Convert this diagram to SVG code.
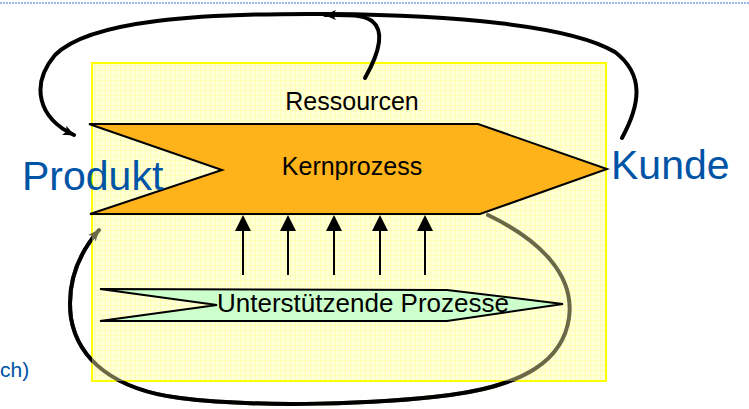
<svg xmlns="http://www.w3.org/2000/svg" width="749" height="409" viewBox="0 0 749 409">
<defs>
<pattern id="grid" width="5" height="5" patternUnits="userSpaceOnUse">
<rect width="5" height="5" fill="#FFFFDA"/>
<path d="M0,0.5H5M0.5,0V5" stroke="#FFFFB4" stroke-width="1"/>
</pattern>
<clipPath id="outside">
<path clip-rule="evenodd" d="M-10,-10H760V420H-10Z M92,63V381H606V63Z"/>
</clipPath>
<marker id="barb" viewBox="0 0 12 10" refX="11" refY="5" markerWidth="12" markerHeight="10" markerUnits="userSpaceOnUse" orient="auto">
<path d="M0,0 L12,5 L0,10 L3,5 Z" fill="#000"/>
</marker>
<marker id="barbg" viewBox="0 0 12 10" refX="11" refY="5" markerWidth="12" markerHeight="10" markerUnits="userSpaceOnUse" orient="auto">
<path d="M0,0 L12,5 L0,10 L3,5 Z" fill="#6B6848"/>
</marker>
</defs>
<style>
.loop{fill:none;stroke:#000;stroke-width:4;stroke-linecap:round}
.shape{stroke:#000;stroke-width:2;stroke-linejoin:miter}
.lbl{font-family:"Liberation Sans",Arial,sans-serif;fill:#000;text-anchor:middle}
.blue{font-family:"Liberation Sans",Arial,sans-serif;fill:#0054A6}
.vline{stroke:#000;stroke-width:2}
.ah{fill:#000}
</style>
<line x1="0" y1="3" x2="749" y2="3" stroke="#9DB8E6" stroke-width="2" stroke-dasharray="2,1"/>
<g id="frame">
<rect x="92" y="63" width="514" height="318" fill="url(#grid)" stroke="#FFFF00" stroke-width="2"/>
</g>
<g id="connectors">
<path class="loop" style="stroke:#6B6848" d="M488,215 C540,240 575,275 569,318 C563,360 525,385 450,395 C380,404 260,408 180,398 C115,390 78,360 71,318 C66,280 80,252 99,230" marker-end="url(#barbg)"/>
<path class="loop" clip-path="url(#outside)" d="M488,215 C540,240 575,275 569,318 C563,360 525,385 450,395 C380,404 260,408 180,398 C115,390 78,360 71,318 C66,280 80,252 99,230"/>
<path class="loop" d="M622,138 C640,105 645,75 615,52 C570,25 450,15 330,14 C200,13 90,20 55,55 C30,85 38,118 74,135" marker-end="url(#barb)"/>
<path class="loop" d="M365,78 C378,55 386,32 372,21 C362,14 345,15 325,15" marker-end="url(#barb)"/>
<line class="vline" x1="243" y1="275" x2="243" y2="228"/>
<line class="vline" x1="288" y1="275" x2="288" y2="228"/>
<line class="vline" x1="334" y1="275" x2="334" y2="228"/>
<line class="vline" x1="380" y1="275" x2="380" y2="228"/>
<line class="vline" x1="425" y1="275" x2="425" y2="228"/>
<polygon class="ah" points="243,215 251,231 235,231"/>
<polygon class="ah" points="288,215 296,231 280,231"/>
<polygon class="ah" points="334,215 342,231 326,231"/>
<polygon class="ah" points="380,215 388,231 372,231"/>
<polygon class="ah" points="425,215 433,231 417,231"/>
</g>
<g id="kernprozess">
<polygon class="shape" points="89,124 478,124 607,169 480,214 90,214 222,170" fill="#FFB31A"/>
<text class="lbl" x="352" y="175" font-size="25">Kernprozess</text>
</g>
<g id="unterstuetzende">
<polygon class="shape" points="100,289 447,290 563,304 447,321 100,321 217,305" fill="#CCFFCC"/>
<text class="lbl" x="363" y="312" font-size="26">Unterstützende Prozesse</text>
</g>
<g id="ressourcen">
<text class="lbl" x="352" y="110" font-size="25">Ressourcen</text>
</g>
<g id="produkt">
<text class="blue" x="22" y="190" font-size="41">Produkt</text>
</g>
<g id="kunde">
<text class="blue" x="611" y="179" font-size="41">Kunde</text>
</g>
<g id="ch">
<text class="blue" x="0" y="377" font-size="21">ch)</text>
</g>
</svg>
